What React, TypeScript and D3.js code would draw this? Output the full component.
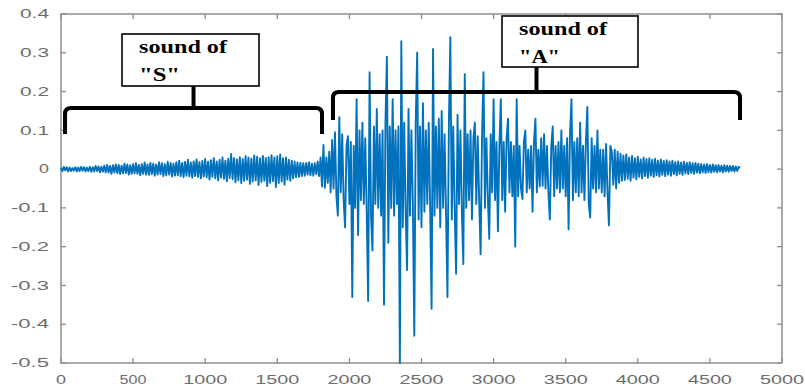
import React from 'react';
import * as d3 from 'd3';

// one value every SAMPLE_STEP samples
const SAMPLE_STEP = 10;

// samples 0 .. 1790, the "S"
const sSound = [
  0.004, -0.005, 0.006, -0.003, 0.005, -0.006, 0.004, -0.005, 0.003, -0.004,
  0.005, -0.006, 0.004, -0.005, 0.006, -0.004, 0.005, -0.006, 0.004, -0.005,
  0.006, -0.007, 0.005, -0.006, 0.008, -0.005, 0.007, -0.008, 0.006, -0.007,
  0.009, -0.008, 0.011, -0.009, 0.008, -0.012, 0.010, -0.009, 0.012, -0.010,
  0.011, -0.013, 0.009, -0.011, 0.014, -0.010, 0.012, -0.014, 0.010, -0.012,
  0.013, -0.011, 0.015, -0.012, 0.011, -0.016, 0.013, -0.012, 0.017, -0.014,
  0.012, -0.015, 0.016, -0.013, 0.014, -0.017, 0.012, -0.014, 0.018, -0.013,
  0.015, -0.018, 0.013, -0.016, 0.019, -0.014, 0.016, -0.019, 0.014, -0.017,
  0.018, -0.016, 0.022, -0.018, 0.016, -0.021, 0.019, -0.017, 0.024, -0.019,
  0.017, -0.022, 0.020, -0.018, 0.025, -0.020, 0.018, -0.024, 0.021, -0.019,
  0.026, -0.021, 0.019, -0.027, 0.023, -0.020, 0.028, -0.024, 0.020, -0.029,
  0.024, -0.022, 0.030, -0.025, 0.022, -0.031, 0.027, -0.023, 0.039, -0.026,
  0.028, -0.034, 0.025, -0.029, 0.031, -0.036, 0.026, -0.030, 0.034, -0.027,
  0.030, -0.038, 0.027, -0.032, 0.035, -0.029, 0.032, -0.041, 0.028, -0.033,
  0.034, -0.030, 0.029, -0.044, 0.031, -0.035, 0.036, -0.031, 0.030, -0.046,
  0.033, -0.036, 0.038, -0.032, 0.028, -0.040, 0.030, -0.027, 0.024, -0.030,
  0.022, -0.024, 0.019, -0.021, 0.017, -0.020, 0.016, -0.018, 0.015, -0.017,
  0.016, -0.014, 0.018, -0.016, 0.014, -0.017, 0.015, -0.013, 0.020, -0.018,
];

// samples 1800 .. 4710, the "A"
const aSound = [
  0.030, -0.045, 0.062, -0.048, 0.030, -0.035, 0.045, -0.060, 0.075, -0.050,
  0.095, -0.070, -0.120, 0.134, -0.060, 0.090, -0.080, -0.150, 0.060, 0.085,
  -0.090, 0.070, -0.330, 0.060, -0.100, 0.180, -0.170, 0.100, -0.080, 0.120,
  -0.090, 0.080, -0.110, -0.340, 0.250, -0.120, -0.210, 0.110, -0.090, 0.155,
  -0.100, 0.090, -0.120, 0.100, -0.350, 0.120, 0.290, -0.190, 0.110, -0.100,
  0.180, -0.120, 0.100, -0.090, 0.110, -0.500, 0.330, -0.150, 0.120, -0.110,
  -0.260, 0.155, -0.120, 0.100, -0.090, -0.430, 0.120, 0.300, -0.130, 0.110,
  -0.150, 0.170, -0.110, 0.100, -0.090, 0.120, -0.100, -0.360, 0.310, -0.120,
  0.110, -0.100, 0.130, -0.150, 0.150, -0.100, 0.090, -0.110, -0.330, 0.120,
  0.340, -0.130, 0.110, -0.100, -0.270, 0.140, -0.090, 0.100, -0.110, -0.245,
  0.245, -0.100, 0.090, -0.080, 0.100, -0.130, 0.080, 0.120, -0.090, 0.085,
  -0.080, -0.220, 0.090, 0.250, -0.100, 0.080, -0.070, -0.180, 0.090, -0.060,
  0.180, -0.080, 0.070, -0.160, 0.060, 0.180, -0.080, 0.070, -0.110, 0.080,
  0.130, -0.060, 0.070, -0.070, 0.060, -0.200, 0.180, -0.070, 0.060, -0.050,
  -0.077, 0.070, 0.100, -0.060, 0.050, -0.050, 0.060, -0.110, 0.070, 0.130,
  -0.060, 0.050, -0.045, 0.080, -0.043, 0.090, -0.050, 0.060, -0.060, -0.130,
  0.060, 0.110, -0.070, 0.060, -0.050, 0.070, -0.060, 0.100, -0.050, 0.060,
  -0.070, 0.080, -0.155, 0.090, 0.180, -0.080, 0.070, -0.060, 0.080, -0.070,
  0.120, -0.060, 0.060, -0.080, 0.070, 0.160, -0.090, -0.125, 0.080, -0.050,
  0.060, -0.060, 0.100, -0.050, 0.050, -0.060, 0.050, -0.070, 0.065, -0.060,
  -0.145, 0.060, 0.045, -0.040, 0.050, -0.050, 0.045, -0.035, 0.040, -0.030,
  0.035, -0.028, 0.038, -0.025, 0.030, -0.030, 0.034, -0.022, 0.028, -0.026,
  0.032, -0.020, 0.025, -0.024, 0.030, -0.018, 0.026, -0.022, 0.028, -0.017,
  0.024, -0.020, 0.027, -0.016, 0.022, -0.019, 0.025, -0.015, 0.021, -0.018,
  0.023, -0.014, 0.020, -0.017, 0.022, -0.013, 0.018, -0.016, 0.020, -0.012,
  0.017, -0.015, 0.019, -0.011, 0.016, -0.013, 0.018, -0.010, 0.015, -0.012,
  0.016, -0.009, 0.014, -0.011, 0.013, -0.008, 0.012, -0.010, 0.013, -0.008,
  0.011, -0.009, 0.012, -0.007, 0.010, -0.008, 0.011, -0.006, 0.009, -0.008,
  0.010, -0.006, 0.009, -0.007, 0.008, -0.005, 0.008, -0.006, 0.007, -0.005,
  0.006, 0.004,
];

const xTicks = [0, 500, 1000, 1500, 2000, 2500, 3000, 3500, 4000, 4500, 5000];
const yTicks = [0.4, 0.3, 0.2, 0.1, 0, -0.1, -0.2, -0.3, -0.4, -0.5];
const yTickLabels = ['0.4', '0.3', '0.2', '0.1', '0', '-0.1', '-0.2', '-0.3', '-0.4', '-0.5'];

// the two labelled parts of the word, in samples
const segments = [
  { lines: ['sound of', '"S"'], from: 28, to: 1810 },
  { lines: ['sound of', '"A"'], from: 1886, to: 4709 },
];

const W = 805;
const H = 387;
const box = { left: 61, right: 782, top: 14, bottom: 363 };

// where each bracket and its text box sit (pixels)
const bracketLayout = [
  { barY: 108, legY: 134, boxX: 122, boxY: 34, boxW: 137, boxH: 52 },
  { barY: 92, legY: 120, boxX: 502, boxY: 16, boxW: 136, boxH: 51 },
];

const axisColor = '#8e8e8e';
const labelColor = '#6d6d6d';

export default function App() {
  const samples = [...sSound, ...aSound];

  const x = d3.scaleLinear().domain([0, 5000]).range([box.left, box.right]);
  const y = d3.scaleLinear().domain([-0.5, 0.4]).range([box.bottom, box.top]);

  const wave = d3.line<number>()
    .x((_, i) => x(i * SAMPLE_STEP))
    .y(d => y(d))(samples);

  const tickLen = 5;
  const r = 6;

  return (
    <svg width={W} height={H} style={{ position: 'absolute', left: 0, top: 0, background: '#fff' }}>
      <rect x={0} y={0} width={W} height={H} fill="#fff" />

      {/* frame */}
      <rect x={box.left} y={box.top} width={box.right - box.left} height={box.bottom - box.top}
        fill="none" stroke={axisColor} strokeWidth={1.5} />

      {xTicks.map(t => (
        <g key={'x' + t}>
          <line x1={x(t)} x2={x(t)} y1={box.bottom} y2={box.bottom - tickLen} stroke={axisColor} strokeWidth={1.3} />
          <line x1={x(t)} x2={x(t)} y1={box.top} y2={box.top + tickLen} stroke={axisColor} strokeWidth={1.3} />
          <text x={x(t)} y={384} textAnchor="middle" fontFamily="'Liberation Sans', Arial, sans-serif"
            fontSize={12} fill={labelColor}
            textLength={String(t).length > 3 ? 44 : String(t).length === 3 ? 27 : 10}
            lengthAdjust="spacingAndGlyphs">{t}</text>
        </g>
      ))}

      {yTicks.map((t, i) => (
        <g key={'y' + i}>
          <line x1={box.left} x2={box.left + tickLen} y1={y(t)} y2={y(t)} stroke={axisColor} strokeWidth={1.3} />
          <line x1={box.right} x2={box.right - tickLen} y1={y(t)} y2={y(t)} stroke={axisColor} strokeWidth={1.3} />
          <text x={49} y={y(t)} dy="0.35em" textAnchor="end" fontFamily="'Liberation Sans', Arial, sans-serif"
            fontSize={12} fill={labelColor}
            textLength={yTickLabels[i].length === 1 ? 10 : yTickLabels[i].length === 3 ? 29 : 38}
            lengthAdjust="spacingAndGlyphs">{yTickLabels[i]}</text>
        </g>
      ))}

      {/* waveform */}
      <path d={wave || ''} fill="none" stroke="#0072BD" strokeWidth={1.9} strokeLinejoin="round" />

      {/* brackets and labels */}
      {segments.map((s, i) => {
        const L = bracketLayout[i];
        const x0 = x(s.from);
        const x1 = x(s.to);
        const xm = (x0 + x1) / 2;
        const d = `M${x0},${L.legY} L${x0},${L.barY + r} Q${x0},${L.barY} ${x0 + r},${L.barY} ` +
          `L${x1 - r},${L.barY} Q${x1},${L.barY} ${x1},${L.barY + r} L${x1},${L.legY}`;
        return (
          <g key={'seg' + i}>
            <path d={d} fill="none" stroke="#000" strokeWidth={4} />
            <line x1={xm} x2={xm} y1={L.barY} y2={L.boxY + L.boxH} stroke="#000" strokeWidth={4} />
            <rect x={L.boxX} y={L.boxY} width={L.boxW} height={L.boxH} fill="#fff" stroke="#000" strokeWidth={1.6} />
            <text x={L.boxX + 17} y={L.boxY + 19} fontFamily="'Liberation Serif', 'Times New Roman', serif"
              fontWeight="bold" fontSize={19} fill="#000" textLength={88} lengthAdjust="spacingAndGlyphs">
              {s.lines[0]}
            </text>
            <text x={L.boxX + 17} y={L.boxY + 47} fontFamily="'Liberation Serif', 'Times New Roman', serif"
              fontWeight="bold" fontSize={19} fill="#000" textLength={41} lengthAdjust="spacingAndGlyphs">
              {s.lines[1]}
            </text>
          </g>
        );
      })}
    </svg>
  );
}
